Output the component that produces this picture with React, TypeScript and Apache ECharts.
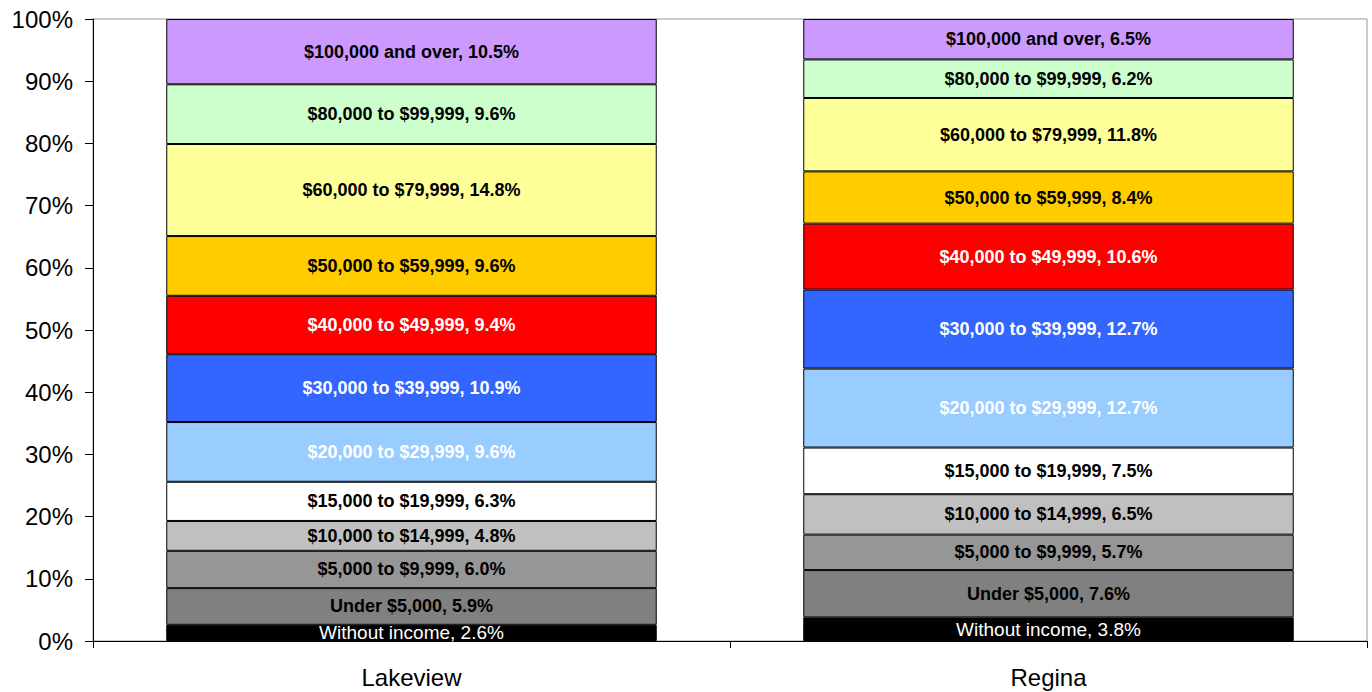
import React, { useEffect, useRef } from "react";
import * as echarts from "echarts";

const categories = ["Lakeview", "Regina"];
const seriesNames = [
  "Without income",
  "Under $5,000",
  "$5,000 to $9,999",
  "$10,000 to $14,999",
  "$15,000 to $19,999",
  "$20,000 to $29,999",
  "$30,000 to $39,999",
  "$40,000 to $49,999",
  "$50,000 to $59,999",
  "$60,000 to $79,999",
  "$80,000 to $99,999",
  "$100,000 and over",
];
const lakeviewValues = [2.6, 5.9, 6.0, 4.8, 6.3, 9.6, 10.9, 9.4, 9.6, 14.8, 9.6, 10.5];
const reginaValues = [3.8, 7.6, 5.7, 6.5, 7.5, 12.7, 12.7, 10.6, 8.4, 11.8, 6.2, 6.5];
const fillColors = [
  "#000000", "#808080", "#969696", "#C0C0C0", "#FFFFFF", "#99CCFF",
  "#3366FF", "#FF0000", "#FFCC00", "#FFFF99", "#CCFFCC", "#CC99FF",
];
const labelColors = [
  "#FFFFFF", "#000000", "#000000", "#000000", "#000000", "#FFFFFF",
  "#FFFFFF", "#FFFFFF", "#000000", "#000000", "#000000", "#000000",
];
const yTicks = [0, 10, 20, 30, 40, 50, 60, 70, 80, 90, 100];

const FONT = "'Liberation Sans', Arial, sans-serif";

export default function App() {
  const ref = useRef<HTMLDivElement>(null);
  useEffect(() => {
    if (!ref.current) return;
    const chart = echarts.init(ref.current, null, { renderer: "svg" });
    const series = seriesNames.map((name, i) => ({
      name,
      type: "bar",
      stack: "total",
      barCategoryGap: "23%",
      data: [lakeviewValues[i], reginaValues[i]],
      itemStyle: { color: fillColors[i], borderColor: "#000000", borderWidth: 1 },
      label: {
        show: true,
        position: "inside",
        color: labelColors[i],
        fontFamily: FONT,
        fontSize: i === 0 ? 19 : 18,
        fontWeight: i === 0 ? "normal" : "bold",
        formatter: (p: any) => `${p.seriesName}, ${Number(p.value).toFixed(1)}%`,
      },
    }));
    chart.setOption({
      animation: false,
      backgroundColor: "#FFFFFF",
      grid: {
        left: 93,
        right: 5,
        top: 19,
        bottom: 51,
        show: true,
        borderColor: "#999999",
        borderWidth: 1,
        containLabel: false,
      },
      xAxis: {
        type: "category",
        data: categories,
        axisLine: { show: true, lineStyle: { color: "#000000", width: 1 } },
        axisTick: { show: true, length: 7, lineStyle: { color: "#000000" } },
        axisLabel: { color: "#000000", fontFamily: FONT, fontSize: 24, margin: 24 },
      },
      yAxis: {
        type: "value",
        min: yTicks[0],
        max: yTicks[yTicks.length - 1],
        interval: 10,
        axisLine: { show: true, lineStyle: { color: "#000000", width: 1 } },
        axisTick: { show: true, length: 8, lineStyle: { color: "#000000" } },
        splitLine: { show: false },
        axisLabel: {
          color: "#000000",
          fontFamily: FONT,
          fontSize: 24,
          margin: 20,
          formatter: "{value}%",
        },
      },
      series,
    });
    return () => chart.dispose();
  }, []);
  return (
    <div
      ref={ref}
      style={{ position: "fixed", left: 0, top: 0, width: 1372, height: 692 }}
    />
  );
}
